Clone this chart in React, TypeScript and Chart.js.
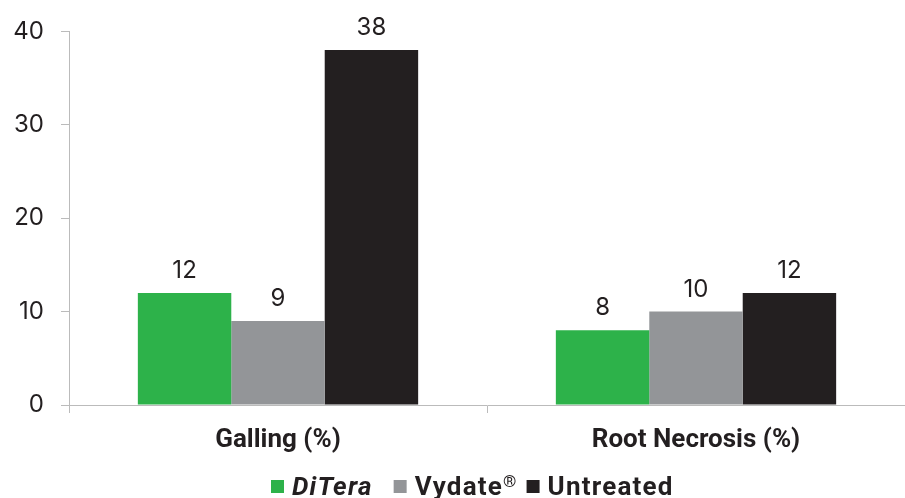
import React, { useEffect, useRef } from "react";
import { Chart, registerables } from "chart.js";

Chart.register(...registerables);

const categories = ["Galling (%)", "Root Necrosis (%)"];
const seriesNames = ["DiTera", "Vydate", "Untreated"];
const ditera = [12, 8];
const vydate = [9, 10];
const untreated = [38, 12];
const colors = ["#2db24a", "#939598", "#231f20"];
const yTicks = [0, 10, 20, 30, 40];

const NUM_FONT = "Inter, Roboto, sans-serif";
const LBL_FONT = "Roboto, 'Open Sans', sans-serif";
const TEXT = "#231f20";

const valueLabels = {
  id: "valueLabels",
  afterDatasetsDraw(chart: any) {
    const ctx = chart.ctx;
    ctx.save();
    ctx.font = `400 24px ${NUM_FONT}`;
    ctx.fillStyle = TEXT;
    ctx.textAlign = "center";
    ctx.textBaseline = "alphabetic";
    chart.data.datasets.forEach((ds: any, i: number) => {
      const meta = chart.getDatasetMeta(i);
      meta.data.forEach((bar: any, j: number) => {
        ctx.fillText(String(ds.data[j]), bar.x, bar.y - 15);
      });
    });
    ctx.restore();
  },
};

const customLegend = {
  id: "customLegend",
  afterDraw(chart: any) {
    const ctx = chart.ctx;
    ctx.save();
    const baseline = 495;
    const sq = 13;
    const sqTop = 480;
    const items = [
      { parts: [{ t: seriesNames[0], f: `italic 700 26px ${LBL_FONT}`, dy: 0 }], c: colors[0] },
      {
        parts: [
          { t: seriesNames[1], f: `700 26px ${LBL_FONT}`, dy: 0 },
          { t: "®", f: `400 17px ${LBL_FONT}`, dy: -8 },
        ],
        c: colors[1],
      },
      { parts: [{ t: seriesNames[2], f: `700 26px ${LBL_FONT}`, dy: 0 }], c: colors[2] },
    ];
    const gaps = [21, 9];
    let x = 271;
    ctx.textBaseline = "alphabetic";
    ctx.textAlign = "left";
    (ctx as any).letterSpacing = "1.2px";
    items.forEach((it, i) => {
      ctx.fillStyle = it.c;
      ctx.fillRect(x, sqTop, sq, sq);
      x += sq + 8;
      ctx.fillStyle = TEXT;
      it.parts.forEach((p) => {
        ctx.font = p.f;
        ctx.fillText(p.t, x, baseline + p.dy);
        x += ctx.measureText(p.t).width;
      });
      if (i < gaps.length) x += gaps[i];
    });
    (ctx as any).letterSpacing = "0px";
    ctx.restore();
  },
};

export default function App() {
  const ref = useRef<HTMLCanvasElement>(null);
  useEffect(() => {
    if (!ref.current) return;
    const chart = new Chart(ref.current, {
      type: "bar",
      data: {
        labels: categories,
        datasets: [
          { label: seriesNames[0], data: ditera, backgroundColor: colors[0] },
          { label: seriesNames[1], data: vydate, backgroundColor: colors[1] },
          { label: seriesNames[2], data: untreated, backgroundColor: colors[2] },
        ],
      },
      options: {
        animation: false,
        responsive: false,
        maintainAspectRatio: false,
        layout: { padding: { top: 27, right: 0, bottom: 0, left: 0 } },
        datasets: { bar: { barPercentage: 1, categoryPercentage: 0.6706 } },
        plugins: { legend: { display: false }, tooltip: { enabled: false } },
        scales: {
          x: {
            afterFit(scale: any) {
              scale.height = 93;
            },
            grid: { drawOnChartArea: false, drawTicks: true, tickLength: 8, color: "#bbbbbb", offset: true },
            border: { display: true, color: "#bbbbbb", width: 1 },
            ticks: { color: TEXT, font: { family: LBL_FONT, size: 26, weight: "bold" }, padding: 12 },
          },
          y: {
            min: 0,
            max: 40,
            afterFit(scale: any) {
              scale.width = 69;
            },
            afterBuildTicks(scale: any) {
              scale.ticks = yTicks.map((v) => ({ value: v }));
            },
            grid: { drawOnChartArea: false, drawTicks: true, tickLength: 8, color: "#bbbbbb" },
            border: { display: true, color: "#bbbbbb", width: 1 },
            ticks: { color: TEXT, font: { family: NUM_FONT, size: 24 }, padding: 17 },
          },
        },
      },
      plugins: [valueLabels, customLegend],
    } as any);
    return () => chart.destroy();
  }, []);
  return (
    <div style={{ position: "fixed", left: 0, top: 0, width: 905, height: 498, background: "#fff" }}>
      <canvas ref={ref} width={905} height={498} style={{ display: "block" }} />
    </div>
  );
}
